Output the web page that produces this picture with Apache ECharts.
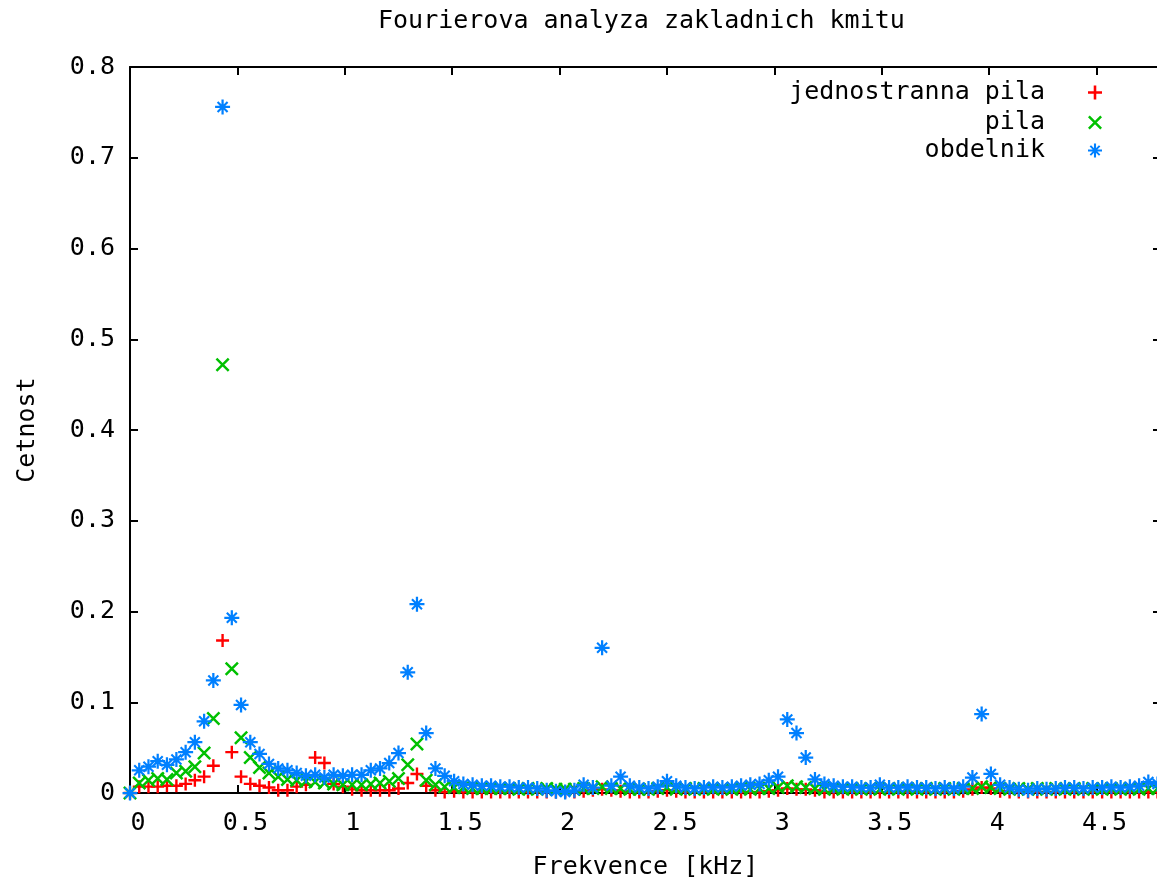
<!DOCTYPE html>
<html>
<head>
<meta charset="utf-8">
<script src="https://cdn.jsdelivr.net/npm/echarts@6/dist/echarts.min.js"></script>
<style>
html,body{margin:0;padding:0;background:#fff;}
#chart{width:1157px;height:885px;}
</style>
</head>
<body>
<div id="chart"></div>
<script>
// Frequency bins [kHz]
const freq = [0,0.043,0.086,0.129,0.172,0.216,0.259,0.302,0.345,0.388,
0.431,0.474,0.517,0.560,0.603,0.647,0.690,0.733,0.776,0.819,
0.862,0.905,0.948,0.991,1.034,1.078,1.121,1.164,1.207,1.250,
1.293,1.336,1.379,1.422,1.465,1.509,1.552,1.595,1.638,1.681,
1.724,1.767,1.810,1.853,1.896,1.940,1.983,2.026,2.069,2.112,
2.155,2.198,2.241,2.284,2.327,2.371,2.414,2.457,2.500,2.543,
2.586,2.629,2.672,2.715,2.758,2.802,2.845,2.888,2.931,2.974,
3.017,3.060,3.103,3.146,3.189,3.233,3.276,3.319,3.362,3.405,
3.448,3.491,3.534,3.577,3.620,3.664,3.707,3.750,3.793,3.836,
3.879,3.922,3.965,4.008,4.051,4.095,4.138,4.181,4.224,4.267,
4.310,4.353,4.396,4.439,4.482,4.526,4.569,4.612,4.655,4.698,
4.741,4.784];

// jednostranna pila
const jednostrannaPila = [0,0.007,0.007,0.007,0.008,0.008,0.010,0.014,0.018,0.030,
0.168,0.045,0.018,0.010,0.008,0.006,0.003,0.003,0.007,0.009,
0.039,0.033,0.010,0.007,0.004,0.003,0.003,0.003,0.003,0.005,
0.011,0.021,0.008,0.003,0.001,0.002,0.001,0.001,0.001,0.001,
0.001,0.001,0.001,0.001,0.001,0.001,0.001,0.001,0.001,0.002,
0.003,0.004,0.003,0.002,0.001,0.001,0.001,0.002,0.003,0.002,
0.001,0.001,0.001,0.001,0.001,0.001,0.001,0.001,0.001,0.002,
0.003,0.005,0.004,0.004,0.003,0.001,0.001,0.001,0.001,0.001,
0.001,0.001,0.001,0.001,0.001,0.001,0.001,0.001,0.001,0.001,
0.002,0.004,0.006,0.005,0.002,0.001,0.001,0.001,0.001,0.001,
0.001,0.001,0.001,0.001,0.001,0.001,0.001,0.001,0.001,0.001,
0.001,0.001];

// pila
const pila = [0,0.011,0.014,0.016,0.015,0.022,0.024,0.029,0.044,0.082,
0.472,0.137,0.061,0.039,0.028,0.022,0.018,0.015,0.014,0.013,
0.012,0.011,0.010,0.009,0.009,0.009,0.010,0.011,0.013,0.016,
0.031,0.054,0.014,0.009,0.007,0.006,0.006,0.005,0.005,0.005,
0.005,0.005,0.004,0.005,0.004,0.005,0.004,0.004,0.004,0.005,
0.005,0.007,0.005,0.005,0.004,0.004,0.004,0.005,0.006,0.004,
0.005,0.004,0.005,0.004,0.005,0.004,0.005,0.004,0.005,0.005,
0.006,0.008,0.007,0.006,0.005,0.004,0.005,0.004,0.005,0.004,
0.005,0.004,0.005,0.004,0.005,0.004,0.005,0.004,0.005,0.004,
0.005,0.005,0.007,0.006,0.005,0.004,0.005,0.004,0.005,0.004,
0.005,0.004,0.005,0.004,0.005,0.004,0.005,0.004,0.005,0.004,
0.005,0.005];

// obdelnik
const obdelnik = [0,0.025,0.029,0.035,0.031,0.037,0.045,0.056,0.079,0.124,
0.756,0.193,0.097,0.056,0.043,0.032,0.027,0.025,0.022,0.019,
0.020,0.017,0.020,0.019,0.020,0.020,0.025,0.027,0.033,0.044,
0.133,0.208,0.066,0.027,0.019,0.013,0.010,0.009,0.008,0.008,
0.007,0.007,0.006,0.006,0.005,0.003,0.002,0.001,0.003,0.009,
0.006,0.160,0.008,0.018,0.008,0.006,0.005,0.007,0.013,0.008,
0.006,0.005,0.006,0.007,0.006,0.007,0.008,0.009,0.010,0.014,
0.018,0.081,0.066,0.039,0.015,0.010,0.008,0.007,0.007,0.006,
0.006,0.009,0.006,0.006,0.007,0.006,0.006,0.005,0.006,0.005,
0.007,0.017,0.087,0.021,0.009,0.006,0.004,0.003,0.005,0.004,
0.005,0.006,0.006,0.005,0.006,0.006,0.007,0.006,0.007,0.008,
0.012,0.010];

const seriesNames = ['jednostranna pila', 'pila', 'obdelnik'];
const seriesData = [jednostrannaPila, pila, obdelnik];
const xTickValues = [0, 0.5, 1, 1.5, 2, 2.5, 3, 3.5, 4, 4.5];

const FONT = '"DejaVu Sans Mono", "Liberation Mono", monospace';
const colors = ['#ff0000', '#00c000', '#0080ff'];
const PLUS = 'path://M4.9,0h2.2v12h-2.2zM0,4.9h12v2.2h-12z';
const CROSS = 'path://M0,1.5L1.5,0L12,10.5L10.5,12ZM10.5,0L12,1.5L1.5,12L0,10.5Z';
const STAR = 'path://M5.1,0h1.8v12h-1.8zM0,5.1h12v1.8h-12zM1.4,2.6L2.6,1.4L10.6,9.4L9.4,10.6ZM9.4,1.4L10.6,2.6L2.6,10.6L1.4,9.4Z';
const symbols = [PLUS, CROSS, STAR];
const sizes = [13, 14, 15];

const pairs = seriesData.map(arr => arr.map((v, i) => [freq[i], v]));

const chart = echarts.init(document.getElementById('chart'), null, {renderer: 'canvas'});
const axisLine = {show: true, onZero: false, lineStyle: {color: '#000', width: 2}};
const tick = {show: true, inside: true, length: 8, lineStyle: {color: '#000', width: 2}};

const legendRows = [92, 122, 150];
chart.setOption({
  animation: false,
  backgroundColor: '#fff',
  title: {
    text: 'Fourierova analyza zakladnich kmitu',
    left: 378, top: 9, padding: 0,
    textStyle: {fontFamily: FONT, fontSize: 25, fontWeight: 'normal', color: '#000'}
  },
  legend: seriesNames.map((n, k) => ({
    data: [n],
    orient: 'vertical',
    right: 55,
    top: legendRows[k] - 12,
    padding: 0,
    align: 'right',
    itemWidth: 14,
    itemHeight: 14,
    textStyle: {fontFamily: FONT, fontSize: 25, color: '#000', padding: [0, 38, 0, 0]}
  })),
  grid: {left: 130, right: -4, top: 67, bottom: 92, containLabel: false, outerBoundsMode: 'none'},
  xAxis: [{
    type: 'value', min: 0, max: 4.8, interval: 0.5,
    name: 'Frekvence [kHz]', nameLocation: 'middle', nameGap: 62,
    nameTextStyle: {fontFamily: FONT, fontSize: 25, color: '#000'},
    axisLine: axisLine, axisTick: tick, splitLine: {show: false},
    axisLabel: {
      fontFamily: FONT, fontSize: 25, color: '#000', margin: 18, padding: [0, 0, 0, 16],
      showMaxLabel: false,
      formatter: v => xTickValues.some(t => Math.abs(t - v) < 1e-6) ? String(v) : ''
    }
  }, {
    type: 'value', position: 'top', min: 0, max: 4.8, interval: 0.5,
    axisLine: axisLine, axisTick: tick, axisLabel: {show: false}, splitLine: {show: false}
  }],
  yAxis: [{
    type: 'value', min: 0, max: 0.8, interval: 0.1,
    name: 'Cetnost', nameLocation: 'middle', nameGap: 90,
    nameTextStyle: {fontFamily: FONT, fontSize: 25, color: '#000'},
    axisLine: axisLine, axisTick: tick, splitLine: {show: false},
    axisLabel: {fontFamily: FONT, fontSize: 25, color: '#000', margin: 15}
  }, {
    type: 'value', position: 'right', min: 0, max: 0.8, interval: 0.1,
    axisLine: axisLine, axisTick: tick, axisLabel: {show: false}, splitLine: {show: false}
  }],
  series: seriesNames.map((n, k) => ({
    name: n,
    type: 'scatter',
    xAxisIndex: 0, yAxisIndex: 0,
    data: pairs[k],
    symbol: symbols[k],
    symbolSize: sizes[k],
    clip: false,
    itemStyle: {color: colors[k], opacity: 1},
    emphasis: {disabled: true}
  }))
});
</script>
</body>
</html>
